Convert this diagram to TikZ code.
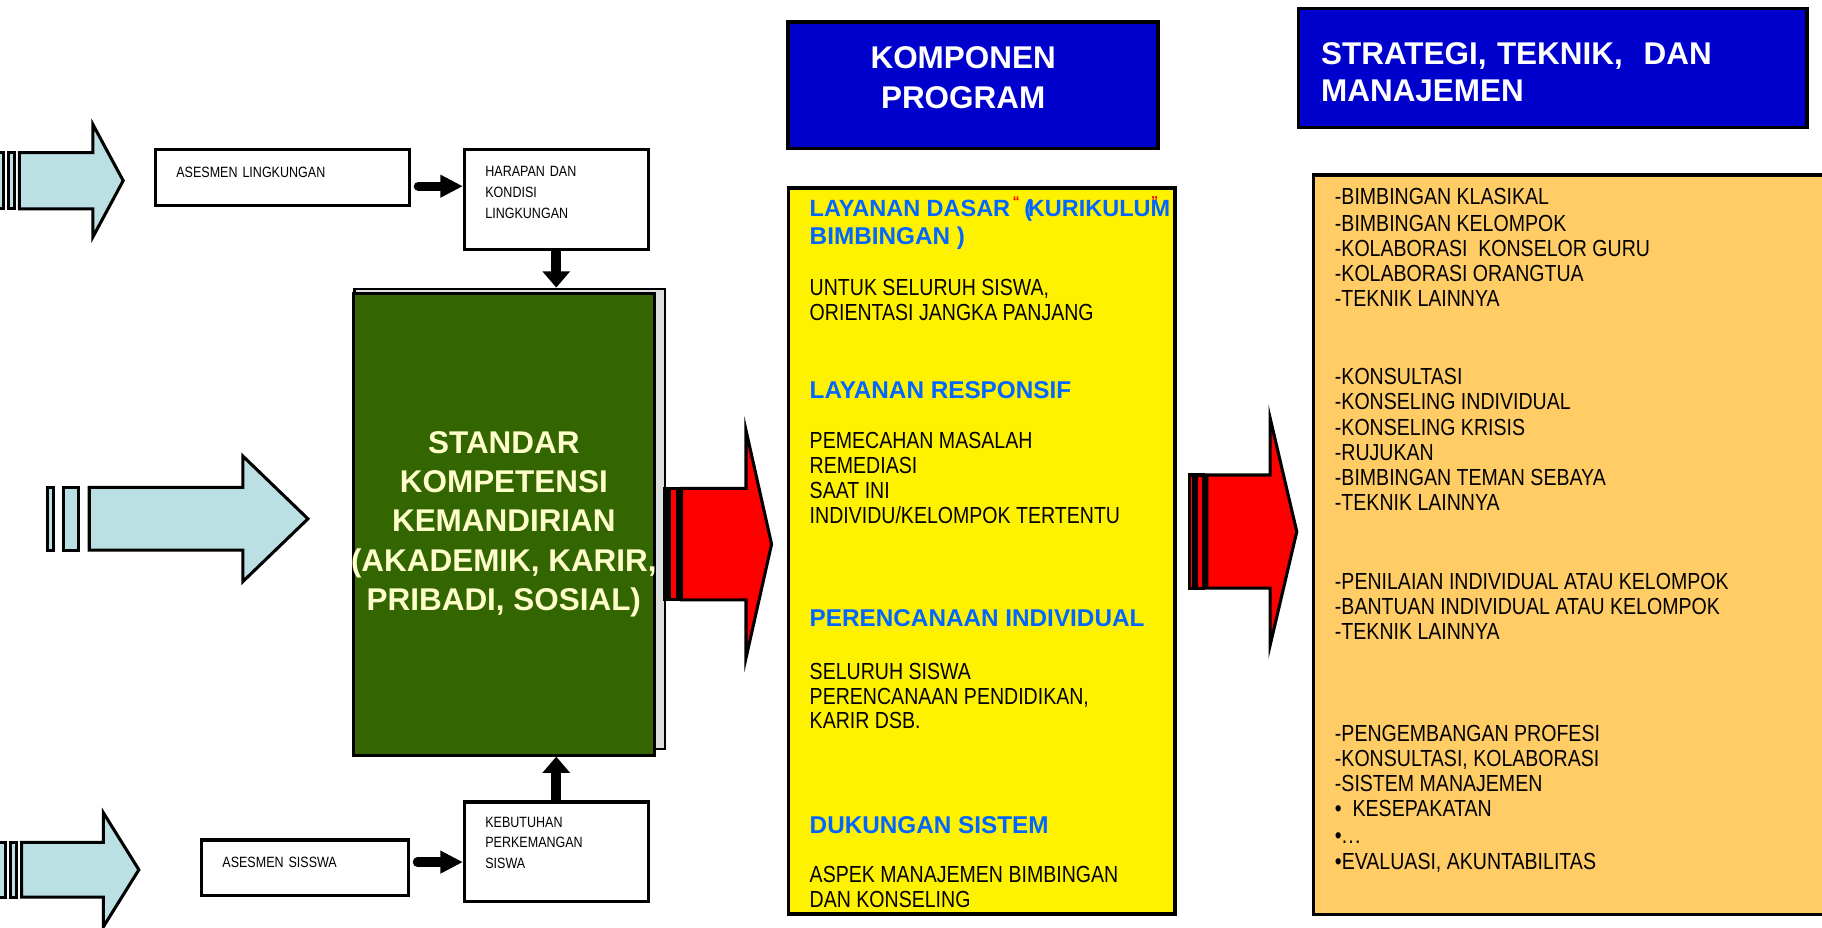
\documentclass[tikz,border=0pt]{standalone}
\usepackage{fontspec}
\setmainfont{Liberation Sans}
\newfontfamily\narrowfont{Liberation Sans}[FakeStretch=0.84]
\usetikzlibrary{arrows.meta}

\definecolor{arrowblue}{RGB}{187,224,227}
\definecolor{kgreen}{RGB}{51,102,0}
\definecolor{cream}{RGB}{255,255,204}
\definecolor{hdrblue}{RGB}{0,0,204}
\definecolor{txtblue}{RGB}{0,102,255}
\definecolor{korange}{RGB}{255,204,102}

% fill, shaft start, head base, tip, y, shaft half, head half
\newcommand{\fatarrow}[7]{%
  \draw[arrowline, fill=#1] (#2,#5-#6) -- (#3,#5-#6) -- (#3,#5-#7) -- (#4,#5)
    -- (#3,#5+#7) -- (#3,#5+#6) -- (#2,#5+#6) -- cycle;}
% fill, x0, x1, y, half
\newcommand{\stripe}[5]{%
  \draw[arrowline, fill=#1] (#2,#4-#5) rectangle (#3,#4+#5);}
\newcommand{\redquote}[1]{\raisebox{0.45em}{\color{red}\fontsize{7}{7}\selectfont #1}}
\newcommand{\threedots}{.\kern0.05em.\kern0.05em.}

\begin{document}
\begin{tikzpicture}[
   x=0.02cm, y=-0.02cm,
   smallbox/.style = {draw, line width=1.5pt, fill=white, inner xsep=0.36cm, inner ysep=0pt,
                      align=left, font=\narrowfont\fontsize{7.3}{10.1}\selectfont},
   headbox/.style  = {draw, line width=1.8pt, fill=hdrblue, text=white},
   listbox/.style  = {draw, line width=1.8pt},
   bodyline/.style = {anchor=base west, inner sep=0pt, font=\narrowfont\fontsize{11.4}{12}\selectfont},
   headline/.style = {anchor=base west, inner sep=0pt, text=txtblue, font=\bfseries\fontsize{11.9}{14}\selectfont},
   arrowline/.style = {line width=1.5pt, line join=miter},
   hlink/.style = {line width=0.16cm, line cap=round, shorten <=0.13cm,
                   -{Triangle[length=0.39cm, width=0.37cm]}},
   vlink/.style = {line width=0.18cm, -{Triangle[length=0.28cm, width=0.46cm]}}]
   \useasboundingbox (0,0) rectangle (1568,798);
   \clip (0,0) rectangle (1568,798);

   % kolom kanan
   \node[listbox, fill=yellow, minimum width=6.65cm, minimum height=12.5cm] (yel) at (844.85,474) {};
   \node[listbox, fill=korange, minimum width=9.19cm, minimum height=12.73cm] (ora) at (1360.15,468.75) {};
   \node[headbox, minimum width=6.37cm, minimum height=2.18cm, align=center, text depth=0.26cm,
         font=\bfseries\fontsize{15.4}{19.6}\selectfont] (komp) at (837.6,73.2)
         {KOMPONEN\hspace*{0.35cm}\\PROGRAM\hspace*{0.35cm}};
   \node[headbox, minimum width=8.75cm, minimum height=2.05cm, text width=7.97cm, inner xsep=0.39cm,
         text height=0.53cm, align=left, font=\bfseries\fontsize{15.4}{18}\selectfont] (strat) at (1336.2,58.5)
         {STRATEGI, TEKNIK,\ \ DAN\\MANAJEMEN};

   \foreach \y/\t [count=\i] in {186.5/{\fontsize{11.5}{14}\selectfont LAYANAN DASAR\kern0.1em\redquote{“}\kern0.2em(\kern-0.18em KURIKULU\rlap{\kern0.02em\redquote{”}}M},
                                 210.8/{BIMBINGAN )}, 343/LAYANAN RESPONSIF,
                                 539/PERENCANAAN INDIVIDUAL, 717/DUKUNGAN SISTEM}
     \node[headline] (yh\i) at (696.5,\y) {\t};
   \foreach \y/\t [count=\i] in {254/{UNTUK SELURUH SISWA,}, 275.4/ORIENTASI JANGKA PANJANG,
                                 385.8/PEMECAHAN MASALAH, 407.3/REMEDIASI, 428.8/SAAT INI,
                                 450.4/{INDIVIDU/KELOMPOK TERTENTU},
                                 584.6/SELURUH SISWA, 606/{PERENCANAAN PENDIDIKAN,}, 626.8/{KARIR DSB.},
                                 759.6/ASPEK MANAJEMEN BIMBINGAN, 780.8/DAN KONSELING}
     \node[bodyline] (yb\i) at (696.5,\y) {\t};
   \foreach \y/\t [count=\i] in {175.6/-BIMBINGAN KLASIKAL, 199.4/-BIMBINGAN KELOMPOK,
                                 220.9/-KOLABORASI\ \ KONSELOR GURU, 242.4/-KOLABORASI ORANGTUA,
                                 264/-TEKNIK LAINNYA,
                                 331.3/-KONSULTASI, 352.8/-KONSELING INDIVIDUAL, 374.4/-KONSELING KRISIS,
                                 395.9/-RUJUKAN, 418.2/-BIMBINGAN TEMAN SEBAYA, 439.5/-TEKNIK LAINNYA,
                                 507.2/-PENILAIAN INDIVIDUAL ATAU KELOMPOK,
                                 528.4/-BANTUAN INDIVIDUAL ATAU KELOMPOK, 550.2/-TEKNIK LAINNYA,
                                 638.3/-PENGEMBANGAN PROFESI, 659.8/{-KONSULTASI, KOLABORASI},
                                 681.3/-SISTEM MANAJEMEN, 702.8/{•\ \ KESEPAKATAN}, 725.8/{•\threedots},
                                 748.1/{•EVALUASI, AKUNTABILITAS}}
     \node[bodyline] (st\i) at (1148.5,\y) {\t};

   % kotak kiri
   \node[smallbox, minimum height=0.97cm, text width=3.65cm, text depth=0.19cm] (aslk) at (243,152.75) {ASESMEN LINGKUNGAN};
   \node[smallbox, minimum height=1.72cm, text width=2.44cm, text depth=0.94cm] (harapan) at (478.7,171.4) {HARAPAN DAN\\KONDISI\\LINGKUNGAN};
   \node[smallbox, minimum height=0.96cm, text width=2.84cm, text depth=0.2cm] (sisswa) at (262.4,746.9) {ASESMEN SISSWA};
   \node[smallbox, minimum height=1.72cm, text width=2.44cm, text depth=1.03cm] (kebutuhan) at (478.7,733.2) {KEBUTUHAN\\PERKEMANGAN\\SISWA};

   \node[draw, line width=1.2pt, fill=gray!25, minimum width=5.35cm, minimum height=7.92cm] (stdback) at (438.75,446.5) {};
   \node[draw, line width=1.5pt, fill=kgreen, minimum width=5.19cm, minimum height=7.95cm] (std) at (433.6,451.1) {};
   \node[text=cream, align=center, inner sep=0pt, font=\bfseries\fontsize{15.4}{19.3}\selectfont] (stdtext) at (std)
         {STANDAR\\KOMPETENSI\\KEMANDIRIAN\\(AKADEMIK, KARIR,\\PRIBADI, SOSIAL)};

   \draw[hlink] ([yshift=-0.15cm]aslk.east) -- ([yshift=-0.15cm]aslk.east -| harapan.west);
   \draw[hlink] ([yshift=0.1cm]sisswa.east) -- ([yshift=0.1cm]sisswa.east -| kebutuhan.west);
   \draw[vlink] (harapan.south) -- (harapan.south |- stdback.north);
   \draw[vlink] (kebutuhan.north) -- (kebutuhan.north |- std.south);

   % panah besar
   \stripe{arrowblue}{-5}{3.3}{155.5}{24.2}
   \stripe{arrowblue}{7.1}{12.1}{155.5}{24.2}
   \fatarrow{arrowblue}{16.7}{80}{106}{155.5}{24.2}{48.3}
   \stripe{arrowblue}{40.8}{45.7}{446.5}{27}
   \stripe{arrowblue}{54.8}{67.6}{446.5}{27}
   \fatarrow{arrowblue}{76.8}{209}{265}{446.5}{27}{54}
   \stripe{arrowblue}{-5}{4.5}{748.5}{23.5}
   \stripe{arrowblue}{9}{14.1}{748.5}{23.5}
   \fatarrow{arrowblue}{18.6}{89}{119.5}{748.5}{23.5}{49}
   \stripe{red}{572}{574}{468.3}{48}
   \stripe{red}{576}{583.5}{468.3}{48}
   \fatarrow{red}{586.5}{642}{664}{468.3}{48}{98}
   \stripe{red}{1024}{1027}{457.5}{48.7}
   \stripe{red}{1030}{1036}{457.5}{48.7}
   \fatarrow{red}{1038.5}{1093}{1116}{457.5}{48.7}{98}
\end{tikzpicture}
\end{document}
